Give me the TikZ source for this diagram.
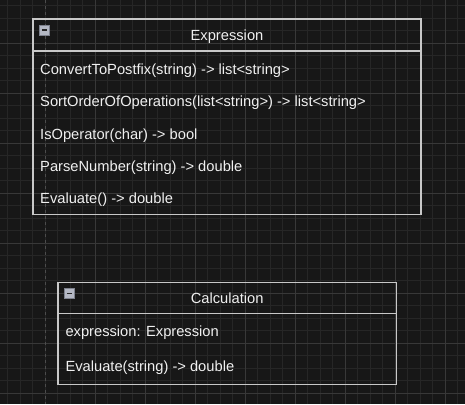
\documentclass[tikz,border=0pt]{standalone}
\usepackage{fontspec}
\setmainfont{Liberation Sans}
\usepackage{tikz}
\usetikzlibrary{calc}
\usepackage{xcolor}
\definecolor{canvas}{HTML}{171717}
\definecolor{minorgrid}{HTML}{262626}
\definecolor{majorgrid}{HTML}{383838}
\definecolor{pageline}{HTML}{4C4C4C}
\definecolor{boxline}{HTML}{C8C8C8}
\definecolor{boxtext}{HTML}{F0F0F0}
\definecolor{iconfill}{HTML}{B4B8C4}
\definecolor{iconline}{HTML}{7E828E}
\tikzset{
 class box/.style={draw=boxline, line width=1.4pt, inner sep=0pt, anchor=north west},
 class line/.style={boxline, line width=1.4pt},
 class title/.style={text=boxtext, inner sep=0pt, anchor=base},
 member text/.style={text=boxtext, inner sep=0pt, anchor=base west}
}
\newcommand{\collapseicon}[1]{
 \draw[iconline, fill=iconfill, line width=0.8pt] ($ #1 + (7,6.5) $) rectangle ($ #1 + (17.5,17) $);
 \draw[black!85, line width=1.6pt] ($ #1 + (9.5,11.75) $) -- ($ #1 + (15,11.75) $);
}

\begin{document}
\begin{tikzpicture}[x=1pt, y=-1pt, font=\fontsize{14.7}{17}\selectfont]
 \useasboundingbox[fill=canvas] (0,0) rectangle (465,404);
%
 \foreach \gx in {7.5,20,...,460} \draw[minorgrid, line width=0.8pt] (\gx,0) -- (\gx,404);
 \foreach \gy in {5.5,18,...,404} \draw[minorgrid, line width=0.8pt] (0,\gy) -- (465,\gy);
 \foreach \gx in {95,145,...,450} \draw[majorgrid, line width=0.9pt] (\gx,0) -- (\gx,404);
 \foreach \gy in {43,93,...,400} \draw[majorgrid, line width=0.9pt] (0,\gy) -- (465,\gy);
 \draw[pageline, line width=0.9pt, dash pattern=on 3pt off 3pt] (45,0) -- (45,404);
%
 \node[class box, minimum width=388pt, minimum height=195pt] (expr) at (32.3,18.5) {};
 \draw[class line] ($ (expr.north west) + (0,32.5) $) -- ($ (expr.north east) + (0,32.5) $);
 \collapseicon{(expr.north west)}
 \node[class title] (exprtitle) at ($ (expr.north) + (0,22.2) $) {Expression};
 \node[member text] (exprpostfix) at (40,74.3) {ConvertToPostfix(string) -> list<string>};
 \node[member text] (exprsort) at (40,106.7) {SortOrderOfOperations(list<string>) -> list<string>};
 \node[member text] (exprisop) at (40,139.1) {IsOperator(char) -> bool};
 \node[member text] (exprparse) at (40,171.5) {ParseNumber(string) -> double};
 \node[member text] (expreval) at (40,203.6) {Evaluate() -> double};
%
 \node[class box, minimum width=338.4pt, minimum height=102pt] (calc) at (57.3,281.7) {};
 \draw[class line] ($ (calc.north west) + (0,32) $) -- ($ (calc.north east) + (0,32) $);
 \collapseicon{(calc.north west)}
 \node[class title] (calctitle) at ($ (calc.north) + (0,21.5) $) {Calculation};
 \node[member text] (calcexpr) at (65.3,336.7) {expression: Expression};
 \node[member text] (calceval) at (65.3,371.4) {Evaluate(string) -> double};
\end{tikzpicture}
\end{document}
